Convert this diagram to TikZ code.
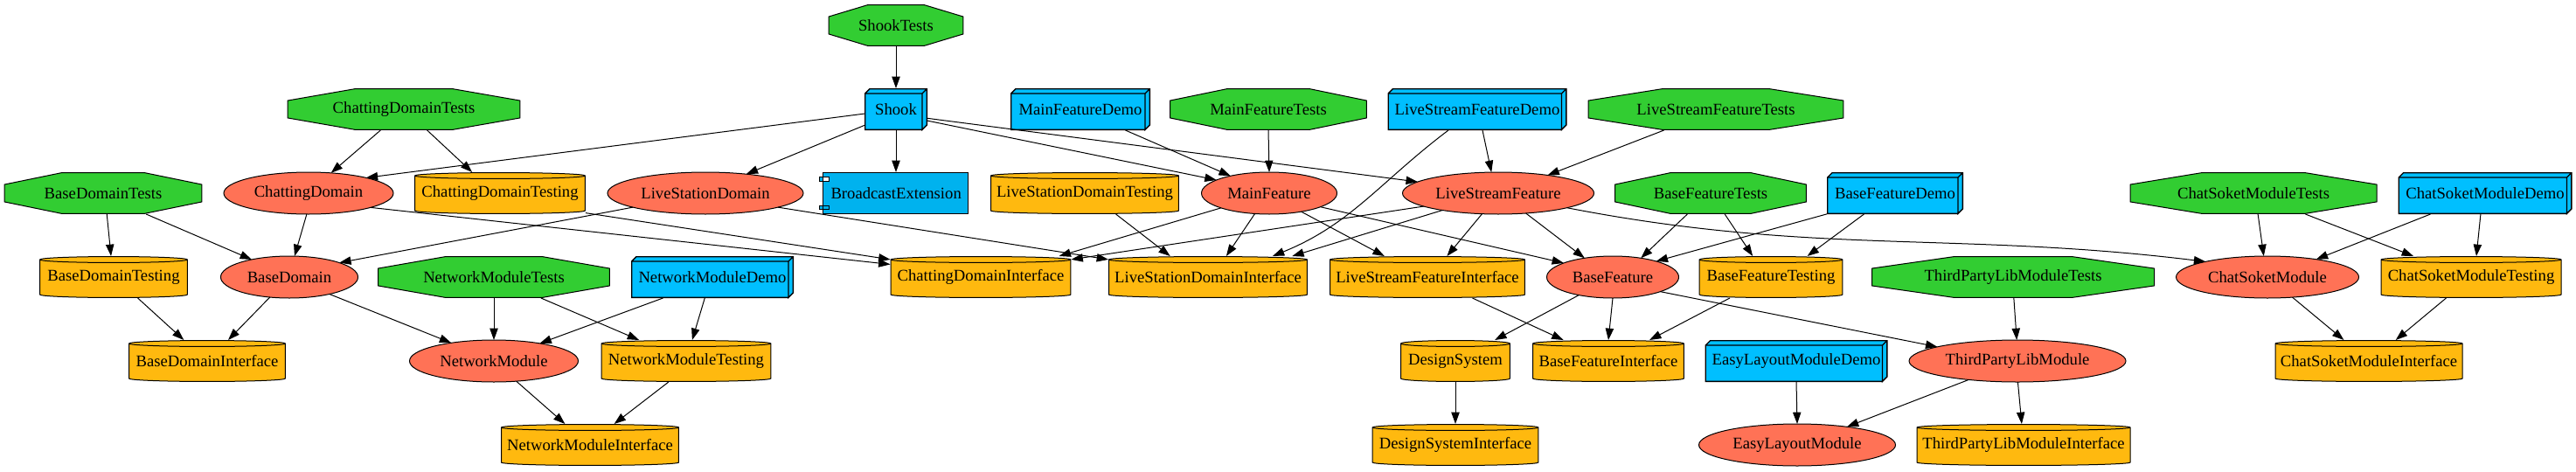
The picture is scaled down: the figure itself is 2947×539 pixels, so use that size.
\documentclass[tikz,border=0pt]{standalone}
\usepackage{fontspec}
\setmainfont{Liberation Serif}
\usetikzlibrary{arrows.meta,calc,shapes.geometric}
\definecolor{testgreen}{HTML}{32CD32}
\definecolor{appblue}{HTML}{00BFFF}
\definecolor{extblue}{HTML}{00B2EE}
\definecolor{fwgold}{HTML}{FFB90F}
\definecolor{libred}{HTML}{FF7256}
\tikzset{
  gvnode/.style={inner sep=0pt, outer sep=0pt, minimum height=36pt, font=\fontsize{14}{16}\selectfont},
  mw/.style={minimum width={#1*0.75pt}},
  octbox/.style={gvnode, rectangle, path picture={
     \path[fill=testgreen, draw=black, line width=0.75pt]
       let \p1=(path picture bounding box.south west), \p2=(path picture bounding box.north east),
           \n1={0.293*(\x2-\x1)}, \n2={0.293*(\y2-\y1)} in
       ({\x1+\n1},{\y2-0.4pt}) -- ({\x2-\n1},{\y2-0.4pt}) -- ({\x2-0.4pt},{\y2-\n2}) -- ({\x2-0.4pt},{\y1+\n2})
       -- ({\x2-\n1},{\y1+0.4pt}) -- ({\x1+\n1},{\y1+0.4pt}) -- ({\x1+0.4pt},{\y1+\n2}) -- ({\x1+0.4pt},{\y2-\n2}) -- cycle;
  }},
  boxthree/.style={gvnode, rectangle, path picture={
     \path[fill=appblue, draw=black, line width=1pt, line join=miter]
       let \p1=(path picture bounding box.south west), \p2=(path picture bounding box.north east) in
       ({\x1+0.5pt},{\y1+0.5pt}) rectangle ({\x2-4.5pt},{\y2-4.5pt})
       ({\x1+0.5pt},{\y2-4.5pt}) -- ({\x1+4.5pt},{\y2-0.5pt}) -- ({\x2-0.5pt},{\y2-0.5pt}) -- ({\x2-4.5pt},{\y2-4.5pt}) -- cycle
       ({\x2-4.5pt},{\y2-4.5pt}) -- ({\x2-0.5pt},{\y2-0.5pt}) -- ({\x2-0.5pt},{\y1+4.5pt}) -- ({\x2-4.5pt},{\y1+0.5pt}) -- cycle;
  }},
  compbox/.style={gvnode, rectangle, path picture={
     \path[fill=extblue, draw=black, line width=0.75pt]
       let \p1=(path picture bounding box.south west), \p2=(path picture bounding box.north east) in
       ({\x1+3pt},{\y1+0.4pt}) rectangle ({\x2-0.4pt},{\y2-0.4pt})
       ({\x1+0.4pt},{\y2-3.8pt}) rectangle ({\x1+8.3pt},{\y2-7.5pt})
       ({\x1+0.4pt},{\y1+3.8pt}) rectangle ({\x1+8.3pt},{\y1+7.5pt});
  }},
  cyl/.style={gvnode, rectangle, path picture={
     \path[fill=fwgold, draw=black, line width=0.75pt]
       let \p1=(path picture bounding box.south west), \p2=(path picture bounding box.north east),
           \n1={(\x2-\x1)/2-0.4pt} in
       ({\x1+0.4pt},{\y2-3pt}) -- ({\x1+0.4pt},{\y1+3pt})
       arc[start angle=180, end angle=360, x radius=\n1, y radius=2.6pt]
       -- ({\x2-0.4pt},{\y2-3pt})
       arc[start angle=0, end angle=180, x radius=\n1, y radius=2.6pt] -- cycle
       ({\x1+0.4pt},{\y2-3pt}) arc[start angle=180, end angle=360, x radius=\n1, y radius=2.6pt];
  }},
  ell/.style={gvnode, ellipse, draw=black, fill=libred, line width=0.75pt},
  dep/.style={draw=black, line width=0.75pt, -{Triangle[length=10pt,width=7pt]}}
}
\begin{document}
\begin{tikzpicture}[x=0.75pt,y=-0.75pt]
\useasboundingbox (0,0) rectangle (2947,539);
% test targets
\node[octbox, mw=155] (ShookTests) at (1025,29) {ShookTests};
\node[octbox, mw=267] (ChattingDomainTests) at (462,125) {ChattingDomainTests};
\node[octbox, mw=226] (MainFeatureTests) at (1451,125) {MainFeatureTests};
\node[octbox, mw=293] (LiveStreamFeatureTests) at (1963,125) {LiveStreamFeatureTests};
\node[octbox, mw=227] (BaseDomainTests) at (118,221) {BaseDomainTests};
\node[octbox, mw=220] (BaseFeatureTests) at (1957,221) {BaseFeatureTests};
\node[octbox, mw=283] (ChatSoketModuleTests) at (2578,221) {ChatSoketModuleTests};
\node[octbox, mw=266] (NetworkModuleTests) at (565,317) {NetworkModuleTests};
\node[octbox, mw=324] (ThirdPartyLibModuleTests) at (2303,317) {ThirdPartyLibModuleTests};
% apps
\node[boxthree, mw=72] (Shook) at (1025,125) {Shook};
\node[boxthree, mw=160] (MainFeatureDemo) at (1236,125) {MainFeatureDemo};
\node[boxthree, mw=205] (LiveStreamFeatureDemo) at (1690,125) {LiveStreamFeatureDemo};
\node[boxthree, mw=156] (BaseFeatureDemo) at (2168,221) {BaseFeatureDemo};
\node[boxthree, mw=199] (ChatSoketModuleDemo) at (2843,221) {ChatSoketModuleDemo};
\node[boxthree, mw=186] (NetworkModuleDemo) at (815,317) {NetworkModuleDemo};
\node[boxthree, mw=209] (EasyLayoutModuleDemo) at (2055,413) {EasyLayoutModuleDemo};
% extension
\node[compbox, mw=171] (BroadcastExtension) at (1022.5,221) {\hspace*{4pt}BroadcastExtension};
% static libraries
\node[ell, mw=194] (ChattingDomain) at (353,221) {ChattingDomain};
\node[ell, mw=224] (LiveStationDomain) at (807,221) {LiveStationDomain};
\node[ell, mw=155] (MainFeature) at (1452,221) {MainFeature};
\node[ell, mw=219] (LiveStreamFeature) at (1714,221) {LiveStreamFeature};
\node[ell, mw=157] (BaseDomain) at (331,317) {BaseDomain};
\node[ell, mw=151] (BaseFeature) at (1845,317) {BaseFeature};
\node[ell, mw=209] (ChatSoketModule) at (2594,317) {ChatSoketModule};
\node[ell, mw=193] (NetworkModule) at (565,413) {NetworkModule};
\node[ell, mw=248] (ThirdPartyLibModule) at (2308,413) {ThirdPartyLibModule};
\node[ell, mw=225] (EasyLayoutModule) at (2056,509) {EasyLayoutModule};
% frameworks
\node[cyl, mw=196] (ChattingDomainTesting) at (572,221) {ChattingDomainTesting};
\node[cyl, mw=216] (LiveStationDomainTesting) at (1241,221) {LiveStationDomainTesting};
\node[cyl, mw=170] (BaseDomainTesting) at (130,317) {BaseDomainTesting};
\node[cyl, mw=207] (ChattingDomainInterface) at (1122,317) {ChattingDomainInterface};
\node[cyl, mw=228] (LiveStationDomainInterface) at (1382,317) {LiveStationDomainInterface};
\node[cyl, mw=224] (LiveStreamFeatureInterface) at (1633,317) {LiveStreamFeatureInterface};
\node[cyl, mw=165] (BaseFeatureTesting) at (2026,317) {BaseFeatureTesting};
\node[cyl, mw=207] (ChatSoketModuleTesting) at (2827,317) {ChatSoketModuleTesting};
\node[cyl, mw=180] (BaseDomainInterface) at (237,413) {BaseDomainInterface};
\node[cyl, mw=195] (NetworkModuleTesting) at (785,413) {NetworkModuleTesting};
\node[cyl, mw=126] (DesignSystem) at (1665,413) {DesignSystem};
\node[cyl, mw=174] (BaseFeatureInterface) at (1840,413) {BaseFeatureInterface};
\node[cyl, mw=215] (ChatSoketModuleInterface) at (2710,413) {ChatSoketModuleInterface};
\node[cyl, mw=204] (NetworkModuleInterface) at (675,509) {NetworkModuleInterface};
\node[cyl, mw=191] (DesignSystemInterface) at (1665,509) {DesignSystemInterface};
\node[cyl, mw=245] (ThirdPartyLibModuleInterface) at (2315,509) {ThirdPartyLibModuleInterface};
% edges
\draw[dep] (ShookTests.south) -- (Shook.north);
\draw[dep] (Shook.188) -- (ChattingDomain.15);
\draw[dep] (Shook.207) -- (LiveStationDomain.25);
\draw[dep] (Shook.south) -- (Shook.south |- BroadcastExtension.north);
\draw[dep] (Shook.-20) -- (MainFeature.166);
\draw[dep] (Shook.-16) -- (LiveStreamFeature.172);
\draw[dep] (MainFeatureDemo.-25) -- (MainFeature.156);
\draw[dep] (MainFeatureTests.south) -- (MainFeature.north);
\draw[dep] (ChattingDomainTests.222) -- (ChattingDomain.42);
\draw[dep] (ChattingDomainTests.-42) -- (ChattingDomainTesting.143);
\draw[dep] (BaseDomainTests.-80) -- (BaseDomainTesting.97);
\draw[dep] (BaseDomainTests.-26) -- (BaseDomain.155);
\draw[dep] (ChattingDomain.-95) -- (BaseDomain.76);
\draw[dep] (ChattingDomain.-13) -- (ChattingDomainInterface.172);
\draw[dep] (ChattingDomainTesting.-13) -- (ChattingDomainInterface.169);
\draw[dep] (LiveStationDomain.191) -- (BaseDomain.16);
\draw[dep] (LiveStationDomain.-11) -- (LiveStationDomainInterface.170);
\draw[dep] (LiveStationDomainTesting.-34) -- (LiveStationDomainInterface.151);
\draw[dep] (MainFeature.197) -- (ChattingDomainInterface.15);
\draw[dep] (MainFeature.235) -- (LiveStationDomainInterface.49);
\draw[dep] (MainFeature.-30) -- (LiveStreamFeatureInterface.154);
\draw[dep] (MainFeature.-15) -- (BaseFeature.164);
\draw[dep] (LiveStreamFeatureDemo.-76) -- (LiveStreamFeature.108);
\draw[dep] (LiveStreamFeatureDemo.216) to[out=217, in=22] (LiveStationDomainInterface.18);
\draw[dep] (LiveStreamFeatureTests.202) -- (LiveStreamFeature.20);
\draw[dep] (LiveStreamFeature.190) -- (ChattingDomainInterface.11);
\draw[dep] (LiveStreamFeature.197) -- (LiveStationDomainInterface.14);
\draw[dep] (LiveStreamFeature.232) -- (LiveStreamFeatureInterface.47);
\draw[dep] (LiveStreamFeature.-36) -- (BaseFeature.146);
\draw[dep] (LiveStreamFeature.-12) to[out=-11, in=173] (ChatSoketModule.166);
\draw[dep] (BaseFeatureTests.222) -- (BaseFeature.34);
\draw[dep] (BaseFeatureTests.-56) -- (BaseFeatureTesting.131);
\draw[dep] (BaseFeatureDemo.197) -- (BaseFeature.20);
\draw[dep] (BaseFeatureDemo.214) -- (BaseFeatureTesting.30);
\draw[dep] (BaseFeature.208) -- (DesignSystem.28);
\draw[dep] (BaseFeature.south) -- (BaseFeatureInterface.north);
\draw[dep] (BaseFeature.-17) -- (ThirdPartyLibModule.170);
\draw[dep] (LiveStreamFeatureInterface.-25) -- (BaseFeatureInterface.155);
\draw[dep] (BaseFeatureTesting.207) -- (BaseFeatureInterface.27);
\draw[dep] (DesignSystem.south) -- (DesignSystemInterface.north);
\draw[dep] (EasyLayoutModuleDemo.south) -- (EasyLayoutModule.north);
\draw[dep] (ThirdPartyLibModuleTests.-88) -- (ThirdPartyLibModule.92);
\draw[dep] (ThirdPartyLibModule.201) -- (EasyLayoutModule.20);
\draw[dep] (ThirdPartyLibModule.-89) -- (ThirdPartyLibModuleInterface.95);
\draw[dep] (ChatSoketModuleTests.-78) -- (ChatSoketModule.100);
\draw[dep] (ChatSoketModuleTests.-22) -- (ChatSoketModuleTesting.160);
\draw[dep] (ChatSoketModuleDemo.201) -- (ChatSoketModule.20);
\draw[dep] (ChatSoketModuleDemo.258) -- (ChatSoketModuleTesting.76);
\draw[dep] (ChatSoketModule.-39) -- (ChatSoketModuleInterface.140);
\draw[dep] (ChatSoketModuleTesting.220) -- (ChatSoketModuleInterface.38);
\draw[dep] (BaseDomainTesting.-41) -- (BaseDomainInterface.138);
\draw[dep] (BaseDomain.226) -- (BaseDomainInterface.45);
\draw[dep] (BaseDomain.-23) -- (NetworkModule.157);
\draw[dep] (NetworkModuleTests.south) -- (NetworkModule.north);
\draw[dep] (NetworkModuleTests.-24) -- (NetworkModuleTesting.156);
\draw[dep] (NetworkModuleDemo.203) -- (NetworkModule.21);
\draw[dep] (NetworkModuleDemo.250) -- (NetworkModuleTesting.74);
\draw[dep] (NetworkModule.-42) -- (NetworkModuleInterface.140);
\draw[dep] (NetworkModuleTesting.230) -- (NetworkModuleInterface.41);
\end{tikzpicture}
\end{document}
